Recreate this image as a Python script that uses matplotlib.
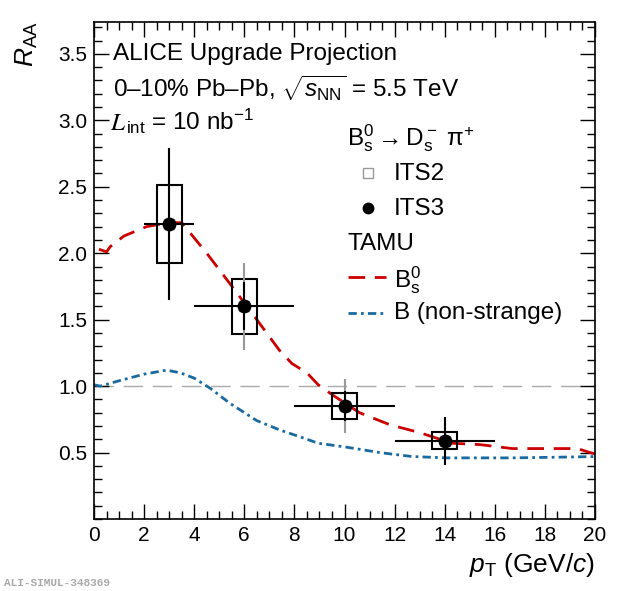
import numpy as np
import matplotlib
matplotlib.use("Agg")
from matplotlib import pyplot as plt
from matplotlib.patches import Rectangle
from matplotlib.lines import Line2D
from matplotlib.ticker import MultipleLocator

plt.rcParams["font.family"] = ["Liberation Sans", "DejaVu Sans"]
plt.rcParams["mathtext.fontset"] = "custom"
plt.rcParams["mathtext.rm"] = "Liberation Sans"
plt.rcParams["mathtext.it"] = "Liberation Sans:italic"
plt.rcParams["mathtext.bf"] = "Liberation Sans:bold"

# Projected B_s0 R_AA points
pt = [3, 6, 10, 14]
pt_err = [1, 2, 2, 2]
raa = [2.22, 1.60, 0.85, 0.59]
its3_stat = [0.57, 0.18, 0.11, 0.18]
its2_stat = [0.57, 0.33, 0.20, 0.18]
syst = [0.295, 0.205, 0.10, 0.065]

# TAMU model curves
tamu_bs_pt = [0.2, 0.5, 0.65, 1.2, 2.1, 3.0, 3.5, 3.85, 4.5, 5.55, 6.5, 7.4, 7.9, 8.5,
              8.95, 9.55, 10.6, 11.8, 13.0, 14.3, 15.4, 16.7, 18.3, 19.3, 19.8, 20.0]
tamu_bs = [2.03, 2.01, 2.05, 2.13, 2.20, 2.23, 2.23, 2.15, 2.00, 1.74, 1.50, 1.27, 1.17, 1.10,
           1.01, 0.93, 0.80, 0.71, 0.65, 0.57, 0.56, 0.53, 0.53, 0.53, 0.50, 0.49]
tamu_b_pt = [0.0, 0.25, 1.0, 2.0, 2.9, 3.45, 4.0, 4.63, 5.43, 6.5, 7.42, 8.35, 8.95,
             10.1, 11.4, 12.7, 14.1, 16.7, 18.5, 20.0]
tamu_b = [1.01, 1.00, 1.04, 1.09, 1.12, 1.10, 1.06, 0.985, 0.87, 0.74, 0.67, 0.61, 0.57,
          0.54, 0.50, 0.47, 0.46, 0.46, 0.465, 0.47]

W, H = 620, 591
fig = plt.figure(figsize=(W / 100, H / 100), dpi=100)
ax = fig.add_axes([94 / W, 1 - 519 / H, 501 / W, 497 / H])


def fx(x):
    return x / W


def fy(y):
    return 1 - y / H


red = "#cc0000"
blue = "#1a6aa0"
txt = 17.5

ax.axhline(1.0, color="#aaaaaa", lw=1.0, dashes=(14, 7), zorder=1)

l1, = ax.plot(tamu_bs_pt, tamu_bs, color=red, lw=2.0, zorder=2)
l1.set_dashes((6, 3.5))
l2, = ax.plot(tamu_b_pt, tamu_b, color=blue, lw=2.0, zorder=2)
l2.set_dashes((3, 1.5, 1, 1.5))

# systematic boxes
for x, y, s in zip(pt, raa, syst):
    ax.add_patch(Rectangle((x - 0.5, y - s), 1.0, 2 * s, fill=False,
                           edgecolor="black", lw=1.5, zorder=4))

# ITS2 (grey) below ITS3 (black)
ax.errorbar(pt, raa, yerr=its2_stat, fmt="s", mfc="none", mec="#999999", ms=7,
            ecolor="#999999", elinewidth=1.5, capsize=0, zorder=5)
ax.errorbar(pt, raa, yerr=its3_stat, xerr=pt_err, fmt="o", color="black", ms=9,
            elinewidth=1.5, capsize=0, zorder=6)

ax.set_xlim(0, 20)
ax.set_ylim(0, 3.74)
ax.xaxis.set_major_locator(MultipleLocator(2))
ax.xaxis.set_minor_locator(MultipleLocator(0.5))
ax.yaxis.set_minor_locator(MultipleLocator(0.1))
ax.set_yticks([0.5, 1.0, 1.5, 2.0, 2.5, 3.0, 3.5])
ax.set_yticklabels(["0.5", "1.0", "1.5", "2.0", "2.5", "3.0", "3.5"])
ax.tick_params(which="both", direction="in", top=True, right=True, labelsize=15,
               width=1.0, pad=5)
ax.tick_params(which="major", length=11)
ax.tick_params(which="minor", length=5.5)
for sp in ax.spines.values():
    sp.set_linewidth(1.2)

fig.text(fx(595), fy(572), r"$p_{\mathrm{T}}$ (GeV/$c$)", fontsize=19,
         ha="right", va="baseline")
fig.text(fx(27), fy(21), r"$R_{\mathrm{AA}}$", fontsize=19, rotation=90,
         ha="center", va="top")

fig.text(fx(113), fy(60), "ALICE Upgrade Projection", fontsize=txt, va="baseline")
fig.text(fx(113), fy(97), r"0–10% Pb–Pb, $\sqrt{s_{\mathrm{NN}}}$ = 5.5 TeV",
         fontsize=txt, va="baseline")
fig.text(fx(110), fy(130), r"$L$", fontsize=18, va="baseline", math_fontfamily="stix")
fig.text(fx(126), fy(130), r"$_{\mathrm{int}}$ = 10 nb$^{\mathrm{-1}}$", fontsize=txt,
         va="baseline")

# legend
fig.text(fx(347), fy(145),
         r"$\mathrm{B_s^0} \rightarrow \mathrm{D_s^-}\ \mathrm{\pi^{+}}$",
         fontsize=txt, va="baseline")
fig.add_artist(Line2D([fx(368)], [fy(173)], marker="s", mfc="none", mec="#999999",
                      ms=7, ls="none"))
fig.text(fx(394), fy(180), "ITS2", fontsize=txt, va="baseline")
fig.add_artist(Line2D([fx(368)], [fy(208)], marker="o", color="black", ms=7.5, ls="none"))
fig.text(fx(394), fy(215), "ITS3", fontsize=txt, va="baseline")
fig.text(fx(347), fy(250), "TAMU", fontsize=txt, va="baseline")
lr = Line2D([fx(348), fx(386)], [fy(277), fy(277)], color=red, lw=2.0)
lr.set_dashes((6, 3.5))
fig.add_artist(lr)
fig.text(fx(394), fy(287), r"$\mathrm{B_s^0}$", fontsize=txt, va="baseline")
lb = Line2D([fx(348), fx(386)], [fy(313), fy(313)], color=blue, lw=2.0)
lb.set_dashes((3, 1.5, 1, 1.5))
fig.add_artist(lb)
fig.text(fx(394), fy(319), "B (non-strange)", fontsize=txt, va="baseline")

fig.text(fx(4), fy(583), "ALI-SIMUL-348369", fontsize=8, color="#a8a8a8",
         family="Liberation Mono", weight="bold", va="center")

fig.savefig("out.png", dpi=100)
